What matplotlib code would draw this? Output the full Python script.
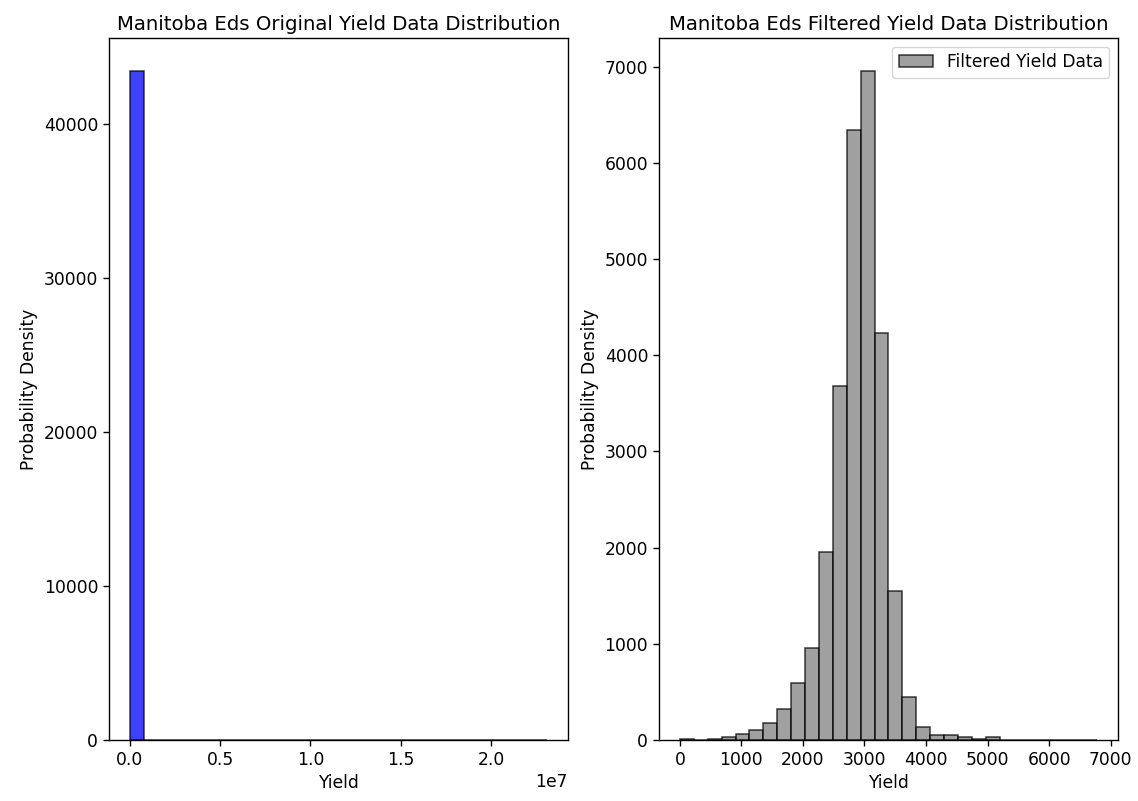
import numpy as np
import matplotlib.pyplot as plt

# original yield histogram (30 bins, counts per bin)
orig_min, orig_max = 0.0, 2.311e7
orig_counts = [43414] + [0] * 28 + [1]

# filtered yield histogram (30 bins, counts per bin)
filt_min, filt_max = 0.0, 6780.0
filt_counts = [15, 0, 15, 30, 65, 104, 173, 322, 592, 959,
               1950, 3676, 6342, 6950, 4230, 1551, 447, 132, 52, 52,
               28, 10, 28, 0, 0, 0, 0, 0, 0, 2]

# the reference was drawn at a larger scale, bump text and lines to match
scale = 1.23
plt.rcParams.update({
    "font.size": 10 * scale,
    "axes.linewidth": 0.8 * scale,
    "xtick.major.size": 3.5 * scale,
    "ytick.major.size": 3.5 * scale,
    "xtick.major.width": 0.8 * scale,
    "ytick.major.width": 0.8 * scale,
})


def hist_bars(ax, lo, hi, counts, color, label=None):
    edges = np.linspace(lo, hi, len(counts) + 1)
    ax.bar(edges[:-1], counts, width=np.diff(edges), align="edge",
           color=color, alpha=0.75, edgecolor="black", linewidth=1.1,
           label=label)


fig = plt.figure(figsize=(11.38, 8.01), dpi=100)
ax1 = fig.add_axes([0.0958, 0.0762, 0.4033, 0.8764])
ax2 = fig.add_axes([0.5791, 0.0762, 0.4033, 0.8764])

# original data
hist_bars(ax1, orig_min, orig_max, orig_counts, "blue")
ax1.set_title("Manitoba Eds Original Yield Data Distribution", fontsize=14.2)
ax1.set_xlabel("Yield")
ax1.set_ylabel("Probability Density")

# filtered data
hist_bars(ax2, filt_min, filt_max, filt_counts, "gray",
          label="Filtered Yield Data")
ax2.set_title("Manitoba Eds Filtered Yield Data Distribution", fontsize=14.2)
ax2.set_xlabel("Yield")
ax2.set_ylabel("Probability Density")
ax2.legend(loc="upper right")

fig.savefig("out.png", dpi=100)
